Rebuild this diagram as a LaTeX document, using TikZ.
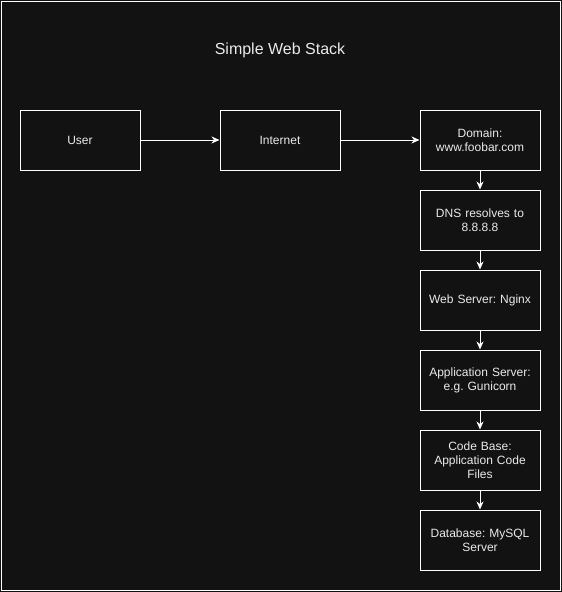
\documentclass[tikz,border=0pt]{standalone}
\usepackage{fontspec}
\setmainfont{Liberation Sans}
\usetikzlibrary{arrows.meta}
\definecolor{bg}{HTML}{121212}
\definecolor{txt}{HTML}{EAEAEA}
\frenchspacing
\begin{document}
\begin{tikzpicture}[x=1pt,y=-1pt,
  box/.style={draw=white,line width=1pt,fill=bg,minimum width=120pt,minimum height=60pt,
    text width=112pt,align=center,text=txt,font=\fontsize{12}{14}\selectfont,inner sep=0pt},
  conn/.style={draw=white,line width=1pt,-{Stealth[length=8pt,width=7pt,inset=2.5pt]}}]
\fill[bg] (0,0) rectangle (562,592);
\useasboundingbox (0,0) rectangle (562,592);
\draw[white,line width=1pt] (1,1) rectangle (560.5,590.5);
\node[text=txt,font=\fontsize{16}{18}\selectfont] (title) at (280,50) {Simple Web Stack};
\node[box] (user) at (80,140) {User};
\node[box] (internet) at (280,140) {Internet};
\node[box] (domain) at (480,140) {Domain:\\www.foobar.com};
\node[box] (dns) at (480,220) {DNS resolves to\\8.8.8.8};
\node[box] (web) at (480,300) {Web Server: Nginx};
\node[box] (app) at (480,380) {Application Server:\\e.g. Gunicorn};
\node[box] (code) at (480,460) {Code Base:\\Application Code\\Files};
\node[box] (db) at (480,540) {Database: MySQL\\Server};
\draw[conn] (user) -- (internet);
\draw[conn] (internet) -- (domain);
\draw[conn] (domain) -- (dns);
\draw[conn] (dns) -- (web);
\draw[conn] (web) -- (app);
\draw[conn] (app) -- (code);
\draw[conn] (code) -- (db);
\end{tikzpicture}
\end{document}
